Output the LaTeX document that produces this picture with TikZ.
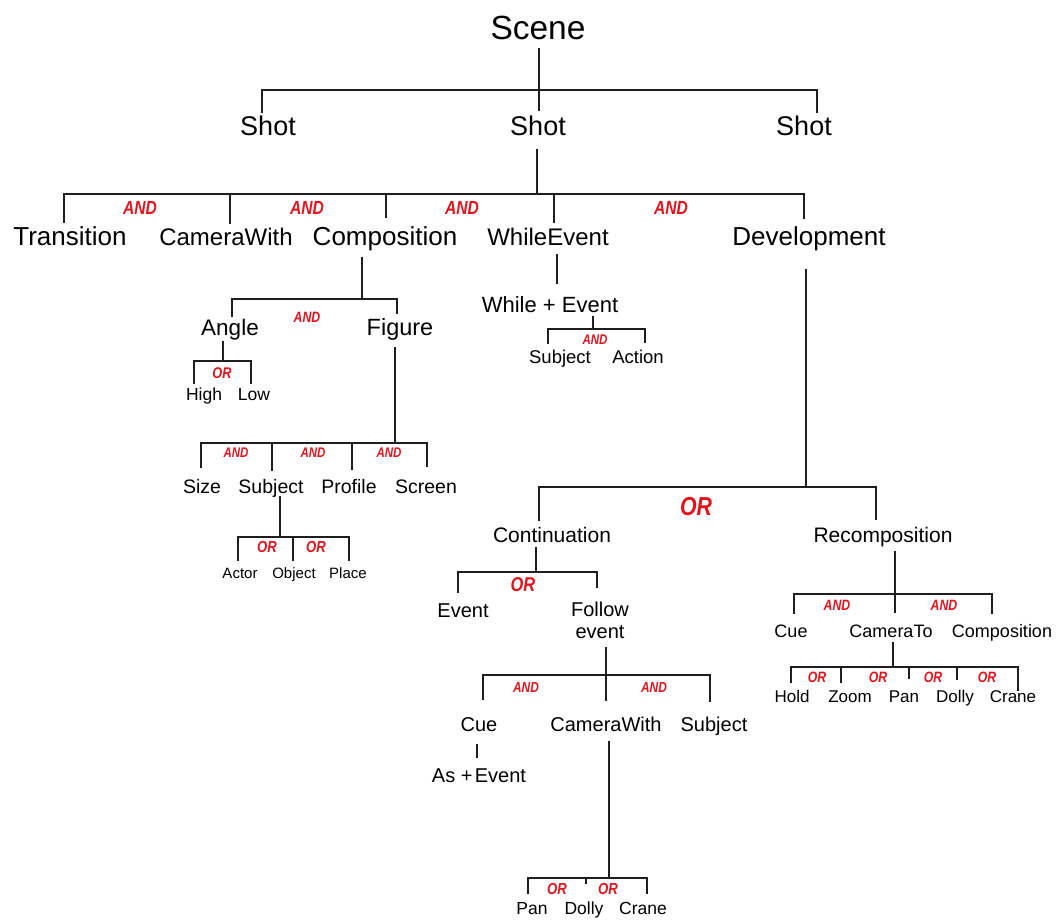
\documentclass[tikz,border=0pt]{standalone}
\usepackage{fontspec}
\setmainfont{Liberation Sans}
\newfontfamily\opfont[FakeStretch=0.82]{Liberation Sans}
\definecolor{opred}{RGB}{225,20,30}
\definecolor{linegray}{RGB}{30,30,30}
\newcommand\fsz[1]{\fontsize{#1}{#1}\selectfont}

\tikzset{
  lbl/.style={anchor=base, inner sep=0pt, font=\fsz{#1}},
  op/.style={anchor=center, inner sep=0pt, text=opred, font=\opfont\fsz{#1}\bfseries\itshape},
  link/.style={draw=linegray, line width=1.3pt, line cap=rect},
  heavy/.style={draw=linegray, line width=2.2pt, line cap=rect}
}

\begin{document}
\begin{tikzpicture}[x=1pt, y=-1pt]
\useasboundingbox (0,0) rectangle (1063,920);
\fill[white] (0,0) rectangle (1063,920);

% ---------- labels ----------
\node[lbl=33.5] (scene) at (538,40) {Scene};
\node[lbl=27] (shotL) at (268,136) {Shot};
\node[lbl=27] (shotM) at (538,136) {Shot};
\node[lbl=27] (shotR) at (804,136) {Shot};

\node[lbl=26] (transition) at (70,246) {Transition};
\node[lbl=24] (camwith) at (226,246) {CameraWith};
\node[lbl=26] (composition) at (385,246) {Composition};
\node[lbl=24] (whileevent) at (548,246) {WhileEvent};
\node[lbl=26] (development) at (809,246) {Development};

\node[lbl=22.5] (angle) at (230,335) {Angle};
\node[lbl=23.5] (figure) at (400,335) {Figure};
\node[lbl=17.5] (high) at (204,400) {High};
\node[lbl=17.5] (low) at (254,400) {Low};

\node[lbl=19.5] (size) at (202,493) {Size};
\node[lbl=19.5] (fsubject) at (271,493) {Subject};
\node[lbl=19.5] (profile) at (349,493) {Profile};
\node[lbl=19.5] (screen) at (426,493) {Screen};

\node[lbl=15] (actor) at (240,578) {Actor};
\node[lbl=15] (object) at (294,578) {Object};
\node[lbl=15] (place) at (348,578) {Place};

\node[lbl=22] (whileplus) at (550,312) {While + Event};
\node[lbl=18.5] (wsubject) at (560,363) {Subject};
\node[lbl=18.5] (action) at (638,363) {Action};

\node[lbl=21] (continuation) at (552,542) {Continuation};
\node[lbl=21] (recomposition) at (883,542) {Recomposition};

\node[lbl=20] (event) at (463,617) {Event};
\node[anchor=base, inner sep=0pt, font=\fontsize{20}{22}\selectfont] (follow) at (600,616)
  {\begin{tabular}[t]{@{}c@{}}Follow\\event\end{tabular}};

\node[lbl=20] (cue) at (479,731) {Cue};
\node[lbl=20] (camwith2) at (606,731) {CameraWith};
\node[lbl=20] (csubject) at (714,731) {Subject};
\node[lbl=20] (asevent) at (479,782) {As +\hspace{0.12em}Event};

\node[lbl=17.5] (pan2) at (532,914) {Pan};
\node[lbl=17.5] (dolly2) at (584,914) {Dolly};
\node[lbl=17.5] (crane2) at (643,914) {Crane};

\node[lbl=18] (rcue) at (791,637) {Cue};
\node[lbl=18] (camto) at (891,637) {CameraTo};
\node[lbl=18] (rcomposition) at (1002,637) {Composition};

\node[lbl=17] (hold) at (792,702) {Hold};
\node[lbl=17] (zoom) at (850,702) {Zoom};
\node[lbl=17] (pan) at (904,702) {Pan};
\node[lbl=17] (dolly) at (955,702) {Dolly};
\node[lbl=17] (crane) at (1013,702) {Crane};

% ---------- operators ----------
\node[op=19] (and1) at (140,208) {AND};
\node[op=19] (and2) at (307,208) {AND};
\node[op=19] (and3) at (462,208) {AND};
\node[op=19] (and4) at (671,208) {AND};
\node[op=15] (andc) at (307,317) {AND};
\node[op=15.5] (ora) at (222,373) {OR};
\node[op=14] (andf1) at (236,453) {AND};
\node[op=14] (andf2) at (313,453) {AND};
\node[op=14] (andf3) at (389,453) {AND};
\node[op=16] (ors1) at (267,547) {OR};
\node[op=16] (ors2) at (316,547) {OR};
\node[op=14] (andw) at (595,340) {AND};
\node[op=26] (ordev) at (696,507) {OR};
\node[op=20] (orcont) at (523,585) {OR};
\node[op=14.5] (andfe1) at (526,688) {AND};
\node[op=14.5] (andfe2) at (654,688) {AND};
\node[op=15] (andr1) at (837,605) {AND};
\node[op=15] (andr2) at (944,605) {AND};
\node[op=15] (orct1) at (817,677) {OR};
\node[op=15] (orct2) at (878,677) {OR};
\node[op=15] (orct3) at (933,677) {OR};
\node[op=15] (orct4) at (987,677) {OR};
\node[op=16] (orcw1) at (557,889) {OR};
\node[op=16] (orcw2) at (608,889) {OR};

% ---------- connector points ----------
% Scene -> Shot
\coordinate (sc-top) at (539,49);  \coordinate (sc-bar) at (539,90);
\coordinate (sc-1) at (262,112);   \coordinate (sc-2) at (539,110);  \coordinate (sc-3) at (817,112);
% Shot -> parts
\coordinate (sh-top) at (537,150); \coordinate (sh-bar) at (537,194);
\coordinate (sh-1) at (64,222);    \coordinate (sh-2) at (230,223);  \coordinate (sh-3) at (386,217);
\coordinate (sh-4) at (554,222);   \coordinate (sh-5) at (804,218);
% Composition -> Angle, Figure
\coordinate (co-top) at (362,258); \coordinate (co-bar) at (362,299);
\coordinate (co-1) at (232,316);   \coordinate (co-2) at (397,313);
% Angle -> High, Low
\coordinate (an-top) at (223,342); \coordinate (an-bar) at (223,361);
\coordinate (an-1) at (194,383);   \coordinate (an-2) at (251,383);
% Figure -> Size ... Screen
\coordinate (fi-top) at (395,348); \coordinate (fi-bar) at (395,443);
\coordinate (fi-1) at (201,467);   \coordinate (fi-2) at (272,470);
\coordinate (fi-3) at (352,469);   \coordinate (fi-4) at (427,466);
% Subject -> Actor, Object, Place
\coordinate (su-top) at (280,497); \coordinate (su-bar) at (280,537);
\coordinate (su-1) at (238,560);   \coordinate (su-2) at (293,560);  \coordinate (su-3) at (349,560);
% WhileEvent -> While + Event
\coordinate (we-top) at (557,255); \coordinate (we-bot) at (557,283);
% While + Event -> Subject, Action
\coordinate (wp-top) at (593,317); \coordinate (wp-bar) at (593,329);
\coordinate (wp-1) at (548,343);   \coordinate (wp-2) at (645,342);
% Development -> Continuation, Recomposition
\coordinate (de-top) at (806,270); \coordinate (de-bar) at (806,487);
\coordinate (de-1) at (539,520);   \coordinate (de-2) at (876,519);
% Continuation -> Event, Follow event
\coordinate (cn-top) at (536,548); \coordinate (cn-bar) at (536,572);
\coordinate (cn-1) at (458,592);   \coordinate (cn-2) at (597,587);
% Follow event -> Cue, CameraWith, Subject
\coordinate (fe-top) at (606,648); \coordinate (fe-bar) at (606,675);
\coordinate (fe-1) at (483,699);   \coordinate (fe-2) at (606,700);  \coordinate (fe-3) at (710,701);
% Cue -> As + Event
\coordinate (cu-top) at (477,745); \coordinate (cu-bot) at (477,757);
% CameraWith -> Pan, Dolly, Crane
\coordinate (cw-top) at (609,742); \coordinate (cw-bar) at (609,878);
\coordinate (cw-1) at (528,893);   \coordinate (cw-2) at (586,883);  \coordinate (cw-3) at (647,893);
% Recomposition -> Cue, CameraTo, Composition
\coordinate (rc-top) at (895,552); \coordinate (rc-bar) at (895,594);
\coordinate (rc-1) at (794,613);   \coordinate (rc-2) at (895,612);  \coordinate (rc-3) at (992,613);
% CameraTo -> Hold ... Crane
\coordinate (ct-top) at (893,643); \coordinate (ct-bar) at (893,667);
\coordinate (ct-1) at (791,682);   \coordinate (ct-2) at (841,682);  \coordinate (ct-3) at (909,678);
\coordinate (ct-4) at (957,679);   \coordinate (ct-5) at (1018,690);

% ---------- connectors ----------
\draw[link] (sc-top) -- (sc-bar);
\draw[link] (sc-1) -- (sc-1 |- sc-bar) -- (sc-3 |- sc-bar) -- (sc-3);
\draw[link] (sc-bar) -- (sc-2);

\draw[link] (sh-top) -- (sh-bar);
\draw[link] (sh-1) -- (sh-1 |- sh-bar) -- (sh-5 |- sh-bar) -- (sh-5);
\foreach \k in {2,3,4} \draw[link] (sh-\k |- sh-bar) -- (sh-\k);

\draw[link] (co-top) -- (co-bar);
\draw[link] (co-1) -- (co-1 |- co-bar) -- (co-2 |- co-bar) -- (co-2);

\draw[link] (an-top) -- (an-bar);
\draw[link] (an-1) -- (an-1 |- an-bar) -- (an-2 |- an-bar) -- (an-2);

\draw[link] (fi-top) -- (fi-bar);
\draw[link] (fi-1) -- (fi-1 |- fi-bar) -- (fi-4 |- fi-bar) -- (fi-4);
\foreach \k in {2,3} \draw[link] (fi-\k |- fi-bar) -- (fi-\k);

\draw[link] (su-top) -- (su-bar);
\draw[link] (su-1) -- (su-1 |- su-bar) -- (su-3 |- su-bar) -- (su-3);
\draw[link] (su-2 |- su-bar) -- (su-2);

\draw[link] (we-top) -- (we-bot);

\draw[link] (wp-top) -- (wp-bar);
\draw[link] (wp-1) -- (wp-1 |- wp-bar) -- (wp-2 |- wp-bar) -- (wp-2);

\draw[heavy] (de-top) -- (de-bar);
\draw[heavy] (de-1) -- (de-1 |- de-bar) -- (de-2 |- de-bar);
\draw[link] (de-2 |- de-bar) -- (de-2);

\draw[link] (cn-top) -- (cn-bar);
\draw[link] (cn-1) -- (cn-1 |- cn-bar) -- (cn-2 |- cn-bar) -- (cn-2);

\draw[link] (fe-top) -- (fe-bar);
\draw[link] (fe-1) -- (fe-1 |- fe-bar) -- (fe-3 |- fe-bar) -- (fe-3);
\draw[link] (fe-bar) -- (fe-2);

\draw[link] (cu-top) -- (cu-bot);

\draw[link] (cw-top) -- (cw-bar);
\draw[link] (cw-1) -- (cw-1 |- cw-bar) -- (cw-3 |- cw-bar) -- (cw-3);
\draw[link] (cw-2 |- cw-bar) -- (cw-2);

\draw[link] (rc-top) -- (rc-bar);
\draw[link] (rc-1) -- (rc-1 |- rc-bar) -- (rc-3 |- rc-bar) -- (rc-3);
\draw[link] (rc-bar) -- (rc-2);

\draw[link] (ct-top) -- (ct-bar);
\draw[link] (ct-1) -- (ct-1 |- ct-bar) -- (ct-5 |- ct-bar) -- (ct-5);
\foreach \k in {2,3,4} \draw[link] (ct-\k |- ct-bar) -- (ct-\k);
\end{tikzpicture}
\end{document}
